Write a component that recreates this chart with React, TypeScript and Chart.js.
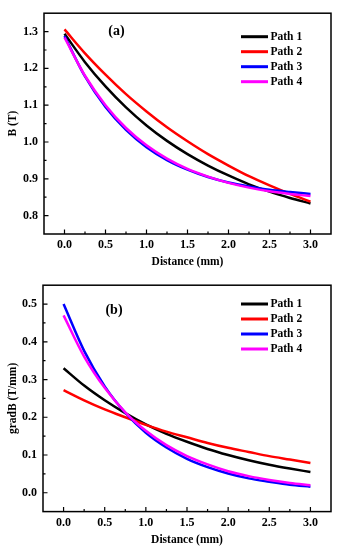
import React, { useEffect, useRef } from 'react';
import { Chart, registerables } from 'chart.js';

Chart.register(...registerables);

// ---------- data ----------
const distance = [0, 0.25, 0.5, 0.75, 1.0, 1.25, 1.5, 1.75, 2.0, 2.25, 2.5, 2.75, 3.0];

const seriesLabels = ['Path 1', 'Path 2', 'Path 3', 'Path 4'];
const seriesColors = ['#000000', '#ff0000', '#0000ff', '#ff00ff'];

// (a) B (T)
const bPath1 = [1.294, 1.217, 1.151, 1.094, 1.045, 1.003, 0.967, 0.936, 0.909, 0.885, 0.865, 0.848, 0.833];
const bPath2 = [1.306, 1.241, 1.183, 1.130, 1.083, 1.040, 1.002, 0.967, 0.936, 0.907, 0.882, 0.859, 0.838];
const bPath3 = [1.288, 1.178, 1.095, 1.033, 0.986, 0.951, 0.925, 0.905, 0.890, 0.879, 0.870, 0.864, 0.859];
const bPath4 = [1.284, 1.180, 1.100, 1.038, 0.991, 0.955, 0.927, 0.906, 0.889, 0.876, 0.866, 0.859, 0.853];

// (b) gradB (T/mm)
const gPath1 = [0.330, 0.284, 0.245, 0.211, 0.181, 0.156, 0.135, 0.116, 0.100, 0.086, 0.074, 0.064, 0.055];
const gPath2 = [0.272, 0.245, 0.221, 0.200, 0.180, 0.162, 0.147, 0.132, 0.119, 0.108, 0.097, 0.088, 0.079];
const gPath3 = [0.500, 0.376, 0.282, 0.212, 0.159, 0.120, 0.090, 0.068, 0.051, 0.038, 0.029, 0.021, 0.016];
const gPath4 = [0.470, 0.361, 0.278, 0.213, 0.164, 0.126, 0.097, 0.075, 0.057, 0.044, 0.034, 0.026, 0.020];

const xTicks = [0, 0.5, 1.0, 1.5, 2.0, 2.5, 3.0];
const yTicksB = [0.8, 0.9, 1.0, 1.1, 1.2, 1.3];
const yTicksG = [0.0, 0.1, 0.2, 0.3, 0.4, 0.5];

const xTitle = 'Distance (mm)';

// ---------- drawing ----------
const FONT = '"Liberation Serif", "Times New Roman", Times, serif';

function minorsOf(ticks: number[]) {
  const out: number[] = [];
  for (let i = 0; i < ticks.length - 1; i++) out.push((ticks[i] + ticks[i + 1]) / 2);
  return out;
}

const framePlugin = {
  id: 'frame',
  afterDatasetsDraw(chart: any, _args: any, opts: any) {
    const { ctx, chartArea: a, scales } = chart;
    const xs = scales.x;
    const ys = scales.y;
    ctx.save();
    ctx.strokeStyle = '#000';
    ctx.lineWidth = 1.5;
    ctx.strokeRect(a.left, a.top, a.right - a.left, a.bottom - a.top);

    ctx.lineWidth = 1.2;
    ctx.beginPath();
    opts.xMajor.forEach((v: number) => {
      const px = xs.getPixelForValue(v);
      ctx.moveTo(px, a.bottom);
      ctx.lineTo(px, a.bottom - 4.5);
    });
    minorsOf(opts.xMajor).forEach((v: number) => {
      const px = xs.getPixelForValue(v);
      ctx.moveTo(px, a.bottom);
      ctx.lineTo(px, a.bottom - 2.5);
    });
    opts.yMajor.forEach((v: number) => {
      const py = ys.getPixelForValue(v);
      ctx.moveTo(a.left, py);
      ctx.lineTo(a.left + 4.5, py);
    });
    minorsOf(opts.yMajor).forEach((v: number) => {
      const py = ys.getPixelForValue(v);
      ctx.moveTo(a.left, py);
      ctx.lineTo(a.left + 2.5, py);
    });
    ctx.stroke();

    // panel label
    ctx.fillStyle = '#000';
    ctx.font = `bold 14px ${FONT}`;
    ctx.textAlign = 'center';
    ctx.textBaseline = 'middle';
    ctx.fillText(opts.label, opts.labelX, opts.labelY);

    // legend
    ctx.font = `bold 11.5px ${FONT}`;
    ctx.textAlign = 'left';
    chart.data.datasets.forEach((ds: any, i: number) => {
      const y = opts.legendY + i * 15;
      ctx.strokeStyle = ds.borderColor;
      ctx.lineWidth = 3;
      ctx.beginPath();
      ctx.moveTo(opts.legendX, y);
      ctx.lineTo(opts.legendX + 27, y);
      ctx.stroke();
      ctx.fillStyle = '#000';
      ctx.fillText(ds.label, opts.legendX + 29.5, y + 0.5);
    });
    ctx.restore();
  },
};

type PanelProps = {
  series: number[][];
  yTicks: number[];
  yMin: number;
  yMax: number;
  yTitle: string;
  height: number;
  top: number;
  padTop: number;
  xAxisHeight: number;
  yAxisWidth: number;
  label: string;
  labelX: number;
  labelY: number;
  legendX: number;
  legendY: number;
};

function Panel(p: PanelProps) {
  const ref = useRef<HTMLCanvasElement | null>(null);
  useEffect(() => {
    if (!ref.current) return;
    const datasets = p.series.map((vals, i) => ({
      label: seriesLabels[i],
      data: distance.map((d, j) => ({ x: d, y: vals[j] })),
      borderColor: seriesColors[i],
      backgroundColor: seriesColors[i],
      borderWidth: 2.5,
      pointRadius: 0,
      fill: false,
      cubicInterpolationMode: 'monotone' as const,
      order: p.series.length - 1 - i,
    }));
    const tickFont = { family: FONT, size: 12, weight: 'bold' as const };
    const titleFont = { family: FONT, size: 11.5, weight: 'bold' as const };
    const chart = new Chart(ref.current, {
      type: 'line',
      data: { datasets },
      plugins: [framePlugin],
      options: {
        animation: false,
        responsive: false,
        maintainAspectRatio: false,
        layout: { padding: { top: p.padTop, right: 8, bottom: 0, left: 0 } },
        plugins: {
          legend: { display: false },
          tooltip: { enabled: false },
          frame: {
            label: p.label,
            labelX: p.labelX,
            labelY: p.labelY,
            legendX: p.legendX,
            legendY: p.legendY,
            xMajor: xTicks,
            yMajor: p.yTicks,
          },
        } as any,
        scales: {
          x: {
            type: 'linear',
            min: -0.25,
            max: 3.25,
            grid: { display: false, drawTicks: false },
            border: { display: false },
            afterBuildTicks: (axis: any) => {
              axis.ticks = xTicks.map((v) => ({ value: v }));
            },
            afterFit: (axis: any) => {
              axis.height = p.xAxisHeight;
            },
            ticks: {
              color: '#000',
              font: tickFont,
              padding: 4,
              maxRotation: 0,
              autoSkip: false,
              callback: (v: any) => Number(v).toFixed(1),
            },
            title: {
              display: true,
              text: xTitle,
              color: '#000',
              font: titleFont,
              padding: { top: 0, bottom: 3.3 },
            },
          },
          y: {
            type: 'linear',
            min: p.yMin,
            max: p.yMax,
            grid: { display: false, drawTicks: false },
            border: { display: false },
            afterBuildTicks: (axis: any) => {
              axis.ticks = p.yTicks.map((v) => ({ value: v }));
            },
            afterFit: (axis: any) => {
              axis.width = p.yAxisWidth;
            },
            ticks: {
              color: '#000',
              font: tickFont,
              padding: 6,
              autoSkip: false,
              callback: (v: any) => Number(v).toFixed(1),
            },
            title: {
              display: true,
              text: p.yTitle,
              color: '#000',
              font: titleFont,
              padding: { top: 6, bottom: 0 },
            },
          },
        },
      },
    });
    return () => chart.destroy();
  }, []);
  return (
    <canvas
      ref={ref}
      width={339}
      height={p.height}
      style={{ position: 'absolute', left: 0, top: p.top, width: 339, height: p.height, display: 'block' }}
    />
  );
}

export default function App() {
  return (
    <div style={{ position: 'absolute', left: 0, top: 0, width: 339, height: 550, background: '#fff' }}>
      <Panel
        series={[bPath1, bPath2, bPath3, bPath4]}
        yTicks={yTicksB}
        yMin={0.75}
        yMax={1.35}
        yTitle="B (T)"
        height={272}
        top={0}
        padTop={3.5}
        xAxisHeight={38}
        yAxisWidth={44}
        label="(a)"
        labelX={116.5}
        labelY={31}
        legendX={241}
        legendY={36.7}
      />
      <Panel
        series={[gPath1, gPath2, gPath3, gPath4]}
        yTicks={yTicksG}
        yMin={-0.05}
        yMax={0.55}
        yTitle="gradB (T/mm)"
        height={278}
        top={272}
        padTop={7.7}
        xAxisHeight={38.4}
        yAxisWidth={43}
        label="(b)"
        labelX={114}
        labelY={38}
        legendX={241}
        legendY={32}
      />
    </div>
  );
}
